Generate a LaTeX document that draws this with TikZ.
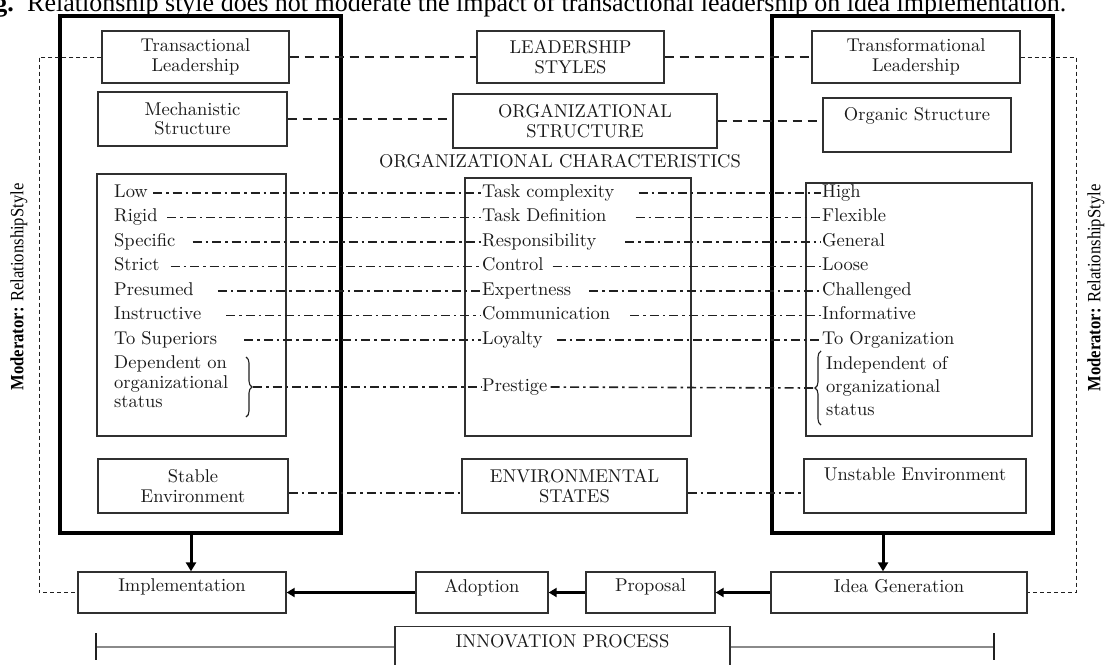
\documentclass[tikz,border=0pt]{standalone}
\usepackage{fontspec}
\setmainfont{lmroman10-regular.otf}[BoldFont=lmroman10-bold.otf, ItalicFont=lmroman10-italic.otf]
\newfontfamily\capfont{Liberation Serif}
\usetikzlibrary{arrows.meta,decorations.pathreplacing,calc}
\definecolor{txt}{HTML}{1A1A1A}
\definecolor{bx}{HTML}{303030}
\definecolor{ln}{HTML}{202020}
\definecolor{gl}{HTML}{8A8A8A}
\begin{document}
\begin{tikzpicture}[x=1pt,y=1pt,
  every node/.style={font=\fontsize{18.5}{19.5}\selectfont, text=txt},
  box/.style={draw=bx, line width=1.3pt, inner sep=0pt, align=center},
  toptext/.style={text depth=23pt},
  thickbox/.style={draw=black, line width=3.6pt, inner sep=0pt},
  lbl/.style={anchor=west, inner sep=1pt, text height=12pt, text depth=4pt},
  mlbl/.style={anchor=west, inner sep=1pt, align=left},
  dsh/.style={draw=ln, line width=1.7pt, dash pattern=on 9pt off 6pt},
  dd/.style={draw=ln, line width=1.6pt, dash pattern=on 9pt off 4pt on 2.5pt off 4pt},
  modline/.style={draw=ln, line width=0.9pt, dash pattern=on 4pt off 3pt},
  varr/.style={draw=black, line width=3pt, -{Triangle[length=9pt,width=10pt]}},
  harr/.style={draw=black, line width=2.6pt, -{Triangle[length=8pt,width=9pt]}},
  brc/.style={draw=ln, line width=1.1pt, decorate, decoration={brace, amplitude=6pt}},
  modtext/.style={rotate=90, inner sep=0pt, text=black},
]
\useasboundingbox (0,0) rectangle (1105,-664);
\clip (0,0) rectangle (1105,-664);
\fill[white] (0,0) rectangle (1105,-664);

% caption (cut at top)
\node[anchor=base west, inner sep=0pt, font=\capfont\fontsize{26}{28}\selectfont, text=black] (cap) at (27,-11) {Relationship style does not moderate the impact of transactional leadership on idea implementation.};
\node[anchor=base east, inner sep=0pt, font=\capfont\bfseries\fontsize{26}{28}\selectfont, text=black] (fig) at (14,-11) {Fig.};

% thick frames
\node[thickbox, minimum width=281pt, minimum height=517pt] (tl) at (200.5,-274.5) {};
\node[thickbox, minimum width=281pt, minimum height=517pt] (tr) at (912.5,-274.5) {};

% top row
\node[box, minimum width=187pt, minimum height=52pt] (trl) at (195.5,-57) {Transactional\\Leadership};
\node[box, minimum width=187pt, minimum height=52pt] (ls) at (570.5,-57) {LEADERSHIP\\STYLES};
\node[box, minimum width=208pt, minimum height=52pt] (tfl) at (916,-57) {Transformational\\Leadership};

% second row
\node[box, minimum width=189pt, minimum height=54pt] (mech) at (192.5,-119) {Mechanistic\\Structure};
\node[box, minimum width=264pt, minimum height=54pt] (os) at (585,-121) {ORGANIZATIONAL\\STRUCTURE};
\node[box, toptext, minimum width=188pt, minimum height=54pt] (org) at (917,-125) {Organic Structure};

\node[inner sep=0pt] (oc) at (560,-161) {ORGANIZATIONAL CHARACTERISTICS};

% list boxes
\node[box, minimum width=189pt, minimum height=262pt] (lb) at (191.5,-305) {};
\node[box, minimum width=226pt, minimum height=258pt] (cb) at (578,-307) {};
\node[box, minimum width=226pt, minimum height=253pt] (rb) at (919,-309.5) {};

% left labels
\node[lbl] (l1) at (113,-193) {Low};
\node[lbl] (l2) at (113,-217.5) {Rigid};
\node[lbl] (l3) at (113,-242) {Specific};
\node[lbl] (l4) at (113,-266.5) {Strict};
\node[lbl] (l5) at (113,-291) {Presumed};
\node[lbl] (l6) at (113,-315.5) {Instructive};
\node[lbl] (l7) at (113,-340) {To Superiors};
\node[mlbl] (l8) at (113,-382) {Dependent on\\organizational\\status};

% center labels
\node[lbl] (c1) at (481,-193) {Task complexity};
\node[lbl] (c2) at (481,-217.5) {Task Definition};
\node[lbl] (c3) at (481,-242) {Responsibility};
\node[lbl] (c4) at (481,-266.5) {Control};
\node[lbl] (c5) at (481,-291) {Expertness};
\node[lbl] (c6) at (481,-315.5) {Communication};
\node[lbl] (c7) at (481,-340) {Loyalty};
\node[lbl] (c8) at (481,-387) {Prestige};

% right labels
\node[lbl] (r1) at (821,-193) {High};
\node[lbl] (r2) at (821,-217.5) {Flexible};
\node[lbl] (r3) at (821,-242) {General};
\node[lbl] (r4) at (821,-266.5) {Loose};
\node[lbl] (r5) at (821,-291) {Challenged};
\node[lbl] (r6) at (821,-315.5) {Informative};
\node[lbl] (r7) at (821,-340) {To Organization};
\node[mlbl, font=\fontsize{18.5}{23}\selectfont] (r8) at (825,-386) {Independent of\\organizational\\status};

% braces
\draw[brc] (246,-357) -- (246,-417);
\coordinate (lbt) at (253,-387);
\draw[brc] (821,-425) -- (821,-351);
\coordinate (rbt) at (814,-388);

% env row
\node[box, minimum width=190pt, minimum height=54pt] (stab) at (193,-486) {Stable\\Environment};
\node[box, minimum width=225pt, minimum height=54pt] (envs) at (574.5,-486) {ENVIRONMENTAL\\STATES};
\node[box, toptext, minimum width=222pt, minimum height=54pt] (unst) at (915,-486) {Unstable Environment};

% process row
\node[box, text depth=14pt, minimum width=208pt, minimum height=41pt] (impl) at (182,-592.5) {Implementation};
\node[box, text depth=14pt, minimum width=132pt, minimum height=41pt] (adop) at (482,-592.5) {Adoption};
\node[box, text depth=14pt, minimum width=129pt, minimum height=41pt] (prop) at (650.5,-592.5) {Proposal};
\node[box, text depth=14pt, minimum width=256pt, minimum height=41pt] (idea) at (899,-592.5) {Idea Generation};

% innovation process
\node[box, anchor=north, minimum width=335pt, inner ysep=8pt, text depth=40pt] (innov) at (562.5,-626) {INNOVATION PROCESS};
\coordinate (tickL) at (96,-647);
\coordinate (tickR) at (994,-647);
\draw[gl, line width=1.6pt] (tickL) -- (tickL -| innov.west);
\draw[gl, line width=1.6pt] (innov.east |- tickR) -- (tickR);
\draw[ln, line width=1.4pt] ([yshift=14pt]tickL) -- ([yshift=-13pt]tickL);
\draw[ln, line width=1.4pt] ([yshift=14pt]tickR) -- ([yshift=-13pt]tickR);

% moderator labels and lines
\coordinate (modL) at (39,-300);
\coordinate (modR) at (1076,-300);
\draw[modline] (trl.west) -| (modL) |- (impl.west);
\draw[modline] (tfl.east) -| (modR) |- (idea.east);
\node[modtext] (mtl) at (19,-287) {\resizebox{207pt}{13pt}{\capfont\textbf{Moderator:} RelationshipStyle}};
\node[modtext] (mtr) at (1096,-288) {\resizebox{207pt}{13pt}{\capfont\textbf{Moderator:} RelationshipStyle}};

% dashed connectors
\draw[dsh] (trl.east) -- (ls.west);
\draw[dsh] (ls.east) -- (tfl.west);
\draw[dsh] (mech.east) -- (mech.east -| os.west);
\draw[dsh] (os.east) -- (os.east -| org.west);

% dash-dot connectors
\draw[dd] ([xshift=4pt]l1.east) -- (c1.west);
\draw[dd] ([xshift=8.5pt]l2.east) -- (c2.west);
\draw[dd] ([xshift=16pt]l3.east) -- (c3.west);
\draw[dd] ([xshift=10pt]l4.east) -- (c4.west);
\draw[dd] ([xshift=23pt]l5.east) -- (c5.west);
\draw[dd] ([xshift=24pt]l6.east) -- (c6.west);
\draw[dd] ([xshift=26pt]l7.east) -- (c7.west);
\draw[dd] (lbt) -- (c8.west);
\draw[dd] ([xshift=23pt]c1.east) -- (r1.west);
\draw[dd] ([xshift=28pt]c2.east) -- (r2.west);
\draw[dd] ([xshift=28pt]c3.east) -- (r3.west);
\draw[dd] ([xshift=8pt]c4.east) -- (r4.west);
\draw[dd] ([xshift=17pt]c5.east) -- (r5.west);
\draw[dd] ([xshift=19pt]c6.east) -- (r6.west);
\draw[dd] ([xshift=13pt]c7.east) -- (r7.west);
\draw[dd] ([xshift=2pt]c8.east) -- (rbt);
\draw[dd] ([yshift=-7pt]stab.east) -- ([yshift=-7pt]stab.east -| envs.west);
\draw[dd] ([yshift=-7pt]envs.east) -- ([yshift=-7pt]envs.east -| unst.west);

% arrows
\draw[varr] ([xshift=9pt]impl.north |- tl.south) -- ([xshift=9pt]impl.north);
\draw[varr] ([xshift=-16pt]idea.north |- tr.south) -- ([xshift=-16pt]idea.north);
\draw[harr] (adop.west) -- (impl.east);
\draw[harr] (prop.west) -- (adop.east);
\draw[harr] (idea.west) -- (prop.east);
\end{tikzpicture}
\end{document}
